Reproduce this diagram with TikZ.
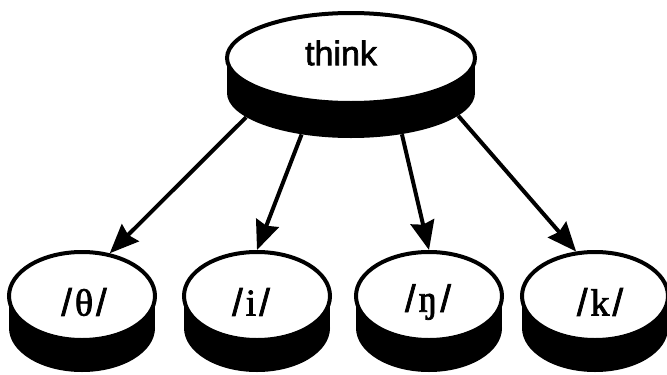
\documentclass[tikz,border=0pt]{standalone}
\usepackage{fontspec}
\setmainfont[FakeBold=2]{Liberation Sans}
\newfontfamily\ipafont[FakeBold=2]{Liberation Serif}
\usetikzlibrary{shapes.geometric,arrows.meta}
\tikzset{
  face/.style={ellipse, draw, line width=4pt, fill=white, inner sep=0pt},
  shade/.style={ellipse, fill=black, inner sep=0pt},
  link/.style={line width=4pt, -{Stealth[length=29pt,width=24pt,inset=3pt]}},
  word/.style={font=\fontsize{34}{34}\selectfont, inner sep=0pt},
  phon/.style={font=\fontsize{38}{38}\selectfont, inner sep=0pt},
}
\newcommand{\ph}[1]{/\kern3pt{\ipafont #1}\kern3pt/}
\begin{document}
\begin{tikzpicture}[x=1pt,y=-1pt]
\useasboundingbox (0,0) rectangle (667,375);
% top disk
\node[shade, minimum width=248pt, minimum height=90pt] (topsh) at (351,93) {};
\fill (227,58) rectangle (475,93);
% bottom disks
\foreach \n/\x in {1/82,2/257,3/429,4/595}{
  \node[shade, minimum width=146pt, minimum height=88pt] (s\n) at (\x,328) {};
  \fill (\x-73,296) rectangle (\x+73,328);
}
\node[face, minimum width=248pt, minimum height=90pt] (top) at (351,58) {};
\node[word] (toptext) at (341,53) {think};
\node[face, minimum width=146pt, minimum height=88pt] (b1) at (82,296) {};
\node[face, minimum width=146pt, minimum height=88pt] (b2) at (257,296) {};
\node[face, minimum width=146pt, minimum height=88pt] (b3) at (429,296) {};
\node[face, minimum width=146pt, minimum height=88pt] (b4) at (595,296) {};
\node[phon] (t1) at (84,302) {\ph{θ}};
\node[phon] (t2) at (251,302) {\ph{i}};
\node[phon] (t3) at (428,302) {\ph{ŋ}};
\node[phon] (t4) at (600,302) {\ph{k}};
% arrows
\draw[link] (topsh.193) -- (b1.57);
\draw[link] (topsh.220) -- (b2.90);
\draw[link] (topsh.321) -- (b3.90);
\draw[link] (topsh.348) -- (b4.113);
\end{tikzpicture}
\end{document}
